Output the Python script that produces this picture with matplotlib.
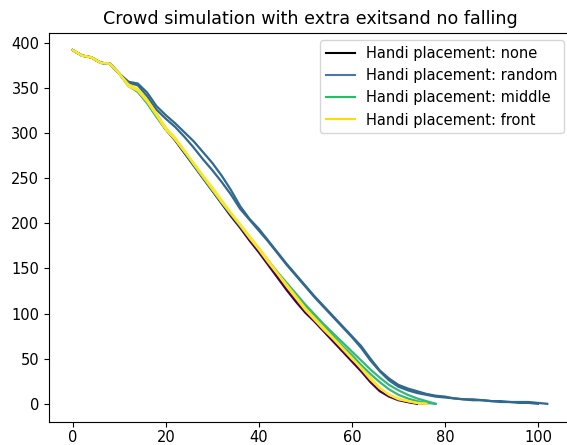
import matplotlib
matplotlib.use("Agg")
import matplotlib.pyplot as plt
from matplotlib.lines import Line2D

plt.rcParams['font.size'] = 10.5

# remaining people per time step (step = 2), two runs per placement
none_a = [392, 386, 384, 378, 377, 366, 353, 346, 334, 319, 304, 292, 278, 264, 250, 236, 222, 208, 195, 181,
          168, 154, 140, 126, 113, 101, 91, 80, 69, 58, 47, 36, 24, 14, 8, 4, 2, 0]
none_b = [392, 386, 384, 378, 377, 366, 354, 348, 336, 321, 305, 293, 279, 266, 252, 238, 224, 210, 197, 183,
          170, 156, 142, 129, 116, 104, 93, 82, 71, 60, 49, 38, 26, 16, 9, 5, 2, 1, 0]
random_a = [392, 386, 384, 378, 377, 366, 357, 355, 345, 330, 320, 311, 301, 291, 279, 267, 253, 237, 219, 205,
            194, 181, 168, 155, 143, 131, 119, 108, 97, 86, 75, 64, 50, 37, 28, 21, 17, 14, 11, 9,
            8, 6, 5, 5, 4, 3, 3, 2, 2, 2, 1, 0]
random_b = [392, 386, 384, 378, 377, 366, 356, 353, 341, 326, 316, 307, 296, 284, 271, 259, 246, 232, 216, 204,
            192, 180, 167, 154, 142, 130, 118, 107, 96, 85, 74, 62, 48, 36, 26, 19, 15, 12, 10, 8,
            7, 6, 5, 4, 4, 3, 2, 2, 1, 1, 0]
middle_a = [392, 386, 384, 378, 377, 366, 353, 347, 334, 319, 305, 294, 280, 265, 251, 237, 223, 210, 197, 184,
            172, 159, 146, 134, 122, 110, 99, 88, 78, 68, 58, 48, 38, 29, 21, 15, 10, 6, 3, 0]
middle_b = [392, 386, 384, 378, 377, 366, 352, 346, 333, 318, 304, 293, 279, 265, 251, 237, 224, 211, 198, 185,
            172, 158, 145, 132, 120, 108, 97, 86, 75, 64, 54, 43, 33, 24, 16, 10, 6, 3, 1, 0]
front_a = [392, 386, 384, 378, 377, 366, 354, 349, 337, 322, 306, 295, 281, 266, 252, 238, 224, 211, 198, 184,
           171, 157, 144, 130, 117, 104, 93, 82, 72, 61, 50, 40, 29, 18, 10, 6, 3, 1, 0]
front_b = [392, 386, 384, 378, 377, 366, 352, 347, 335, 320, 304, 293, 280, 267, 253, 240, 226, 212, 199, 186,
           173, 159, 145, 132, 119, 106, 95, 84, 73, 62, 51, 39, 27, 17, 10, 5, 3, 1, 0]

runs = {
    'none': [none_a, none_b],
    'random': [random_a, random_b],
    'middle': [middle_a, middle_b],
    'front': [front_a, front_b],
}
line_colors = {'none': '#440154', 'random': '#31688e', 'middle': '#35b779', 'front': '#fde725'}
legend_colors = {'none': 'black', 'random': '#4a76ad', 'middle': '#22c066', 'front': '#ffdd00'}

fig = plt.figure(figsize=(5.67, 4.45), dpi=100)
ax = fig.add_axes([49 / 567, 23.5 / 445, 522 / 567, 389 / 445])

for name, series in runs.items():
    for y in series:
        t = list(range(0, 2 * len(y), 2))
        ax.plot(t, y, color=line_colors[name], lw=1.6)

handles = [Line2D([], [], color=legend_colors[n], lw=1.5) for n in runs]
labels = ['Handi placement: ' + n for n in runs]
ax.legend(handles, labels, loc='upper right')
ax.set_title('Crowd simulation with extra exitsand no falling')
ax.tick_params(axis='x', pad=2.5)

fig.savefig('out.png', dpi=100)
